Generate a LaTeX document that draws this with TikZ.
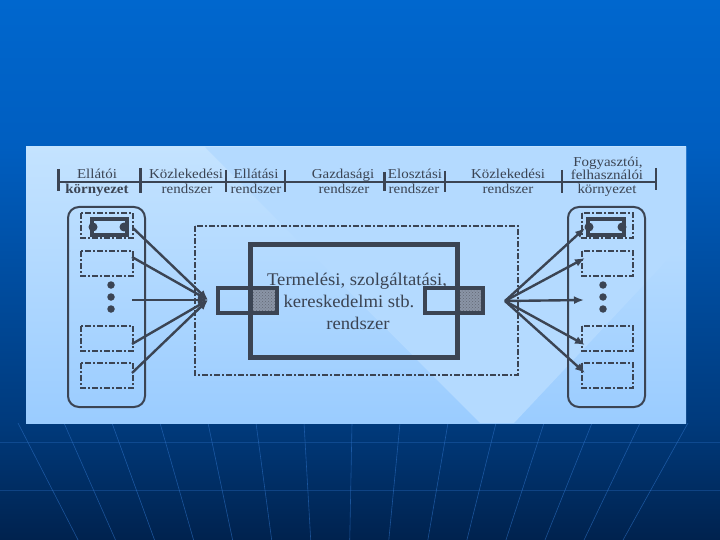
\documentclass[tikz,border=0pt]{standalone}
\usepackage{fontspec}
\setmainfont{Liberation Serif}
\newfontfamily\hdrfont[FakeStretch=1.1]{Liberation Serif}
\newfontfamily\ctrfont[FakeStretch=1.05]{Liberation Serif}
\usetikzlibrary{arrows.meta,patterns,calc}
\definecolor{ink}{HTML}{3B4453}
\definecolor{panelTop}{HTML}{C4E3FF}
\definecolor{panelBot}{HTML}{9ACCFF}
\definecolor{panelV}{HTML}{B4DAFF}
\definecolor{slideTop}{HTML}{0067CE}
\definecolor{slideUpper}{HTML}{005EC0}
\definecolor{slideLower}{HTML}{003A7C}
\definecolor{slideBot}{HTML}{00224E}
\definecolor{gridline}{HTML}{2C70C4}
\definecolor{hatchfill}{HTML}{8A94A6}
\tikzset{
  hdr/.style={font=\hdrfont\fontsize{13.6}{15}\selectfont, text=ink, inner sep=0pt, anchor=base},
  ctr/.style={font=\ctrfont\fontsize{17.8}{21}\selectfont, text=ink, inner sep=0pt, anchor=base},
  bar/.style={draw=ink, line width=1.4pt},
  thickbar/.style={draw=ink, line width=3pt},
  ddbox/.style={draw=ink, line width=2pt, dash pattern=on 6pt off 2pt on 2pt off 2pt},
  column/.style={draw=ink, line width=2pt, rounded corners=11pt},
  plug/.style={draw=ink, line width=3.5pt},
  plugdot/.style={fill=ink, circle, inner sep=0pt, minimum size=9pt},
  dotnode/.style={fill=ink, circle, inner sep=0pt, minimum size=7.5pt},
  conn/.style={draw=ink, line width=2.4pt, -{Latex[length=10pt,width=8pt]}},
  hatch/.style={fill=hatchfill, postaction={pattern=crosshatch dots, pattern color=ink!80}},
}
\begin{document}
\begin{tikzpicture}[x=1pt,y=-1pt]
\useasboundingbox (0,0) rectangle (720,540);
% slide background
\shade[top color=slideTop, bottom color=slideUpper] (0,0) rectangle (720,147.5);
\shade[top color=slideUpper, bottom color=slideLower] (0,147) rectangle (720,423.5);
\shade[top color=slideLower, bottom color=slideBot] (0,423) rectangle (720,540);
\begin{scope}
  \clip (0,423) rectangle (720,540);
  \foreach \xx in {18,64,112,160,208,256,304,352,400,448,496,544,592,640,688}{
    \draw[gridline, opacity=.6, line width=.6pt] (\xx,423) -- ($(\xx,423)!0.19!(340,1050)$);
  }
  \draw[gridline, opacity=.35, line width=.5pt] (0,442) -- (720,442);
  \draw[gridline, opacity=.35, line width=.5pt] (0,490) -- (720,490);
\end{scope}
% panel
\shade[top color=panelTop, bottom color=panelBot] (26,147) rectangle (686,423);
\fill[panelV] (205,147) -- (686,147) -- (686,240) -- (514,423) -- (480,423) -- cycle;

% header
\draw[ink, line width=1.2pt] (58,182) -- (656,182);
\draw[thickbar] (58,169) -- (58,191);
\draw[thickbar] (140,168) -- (140,193);
\draw[bar] (226,170) -- (226,192);
\draw[bar] (285,170) -- (285,192);
\draw[thickbar] (384,172) -- (384,191);
\draw[bar] (445,171) -- (445,192);
\draw[bar] (562,170) -- (562,193);
\draw[bar] (656,168) -- (656,190);

\node[hdr] (h1a) at (97,179) {Ellátói};
\node[hdr] (h1b) at (97,194) {\bfseries környezet};
\node[hdr] (h2a) at (186,179) {Közlekedési};
\node[hdr] (h2b) at (187,194) {rendszer};
\node[hdr] (h3a) at (256,179) {Ellátási};
\node[hdr] (h3b) at (256,194) {rendszer};
\node[hdr] (h4a) at (343,179) {Gazdasági};
\node[hdr] (h4b) at (344,194) {rendszer};
\node[hdr] (h5a) at (415,179) {Elosztási};
\node[hdr] (h5b) at (414,194) {rendszer};
\node[hdr] (h6a) at (508,179) {Közlekedési};
\node[hdr] (h6b) at (508,194) {rendszer};
\node[hdr] (h7a) at (608,167) {Fogyasztói,};
\node[hdr] (h7b) at (607,180) {felhasználói};
\node[hdr] (h7c) at (607,194) {környezet};

% left column
\draw[column] (68,207) rectangle (145,407);
\draw[ddbox] (81,213) rectangle (133,238);
\draw[ddbox] (81,251) rectangle (133,276);
\draw[ddbox] (81,326) rectangle (133,351);
\draw[ddbox] (81,363) rectangle (133,388);
\draw[plug] (92,219) rectangle (127,235);
\node[plugdot] (lp1) at (93,227) {};
\node[plugdot] (lp2) at (124,227) {};
\node[dotnode] (ld1) at (111,285) {};
\node[dotnode] (ld2) at (111,297) {};
\node[dotnode] (ld3) at (111,309) {};

% right column
\draw[column] (568,207) rectangle (645,407);
\draw[ddbox] (582,213) rectangle (633,238);
\draw[ddbox] (582,251) rectangle (633,276);
\draw[ddbox] (582,326) rectangle (633,351);
\draw[ddbox] (582,363) rectangle (633,388);
\draw[plug] (588,219) rectangle (624,235);
\node[plugdot] (rp1) at (589,227) {};
\node[plugdot] (rp2) at (622,227) {};
\node[dotnode] (rd1) at (603,285) {};
\node[dotnode] (rd2) at (603,297) {};
\node[dotnode] (rd3) at (603,309) {};

% central system
\draw[ddbox, line width=1.6pt] (195,226) rectangle (518,375);
\fill[hatch] (250,288) rectangle (277,313);
\fill[hatch] (457,288) rectangle (483,313);
\draw[ink, line width=3.5pt] (218,288) rectangle (277,313);
\draw[ink, line width=3.5pt] (425,288) rectangle (483,313);
\draw[ink, line width=5pt] (250,244) rectangle (457,357);
\node[ctr] (c1) at (357,285) {Termelési, szolgáltatási,};
\node[ctr] (c2) at (349,307) {kereskedelmi stb.};
\node[ctr] (c3) at (358,329) {rendszer};

% connectors
\coordinate (hubL) at (208,300);
\coordinate (hubR) at (505,301);
\coordinate (l1) at (133,228);
\coordinate (l2) at (132,257);
\coordinate (l3) at (132,300);
\coordinate (l4) at (132,344);
\coordinate (l5) at (132,373);
\coordinate (r1) at (585,228);
\coordinate (r2) at (585,258);
\coordinate (r3) at (584,300);
\coordinate (r4) at (585,345);
\coordinate (r5) at (585,373);
\foreach \s in {l1,l2,l3,l4,l5}{ \draw[conn] (\s) -- (hubL); }
\foreach \t in {r1,r2,r3,r4,r5}{ \draw[conn] (hubR) -- (\t); }
\end{tikzpicture}
\end{document}
